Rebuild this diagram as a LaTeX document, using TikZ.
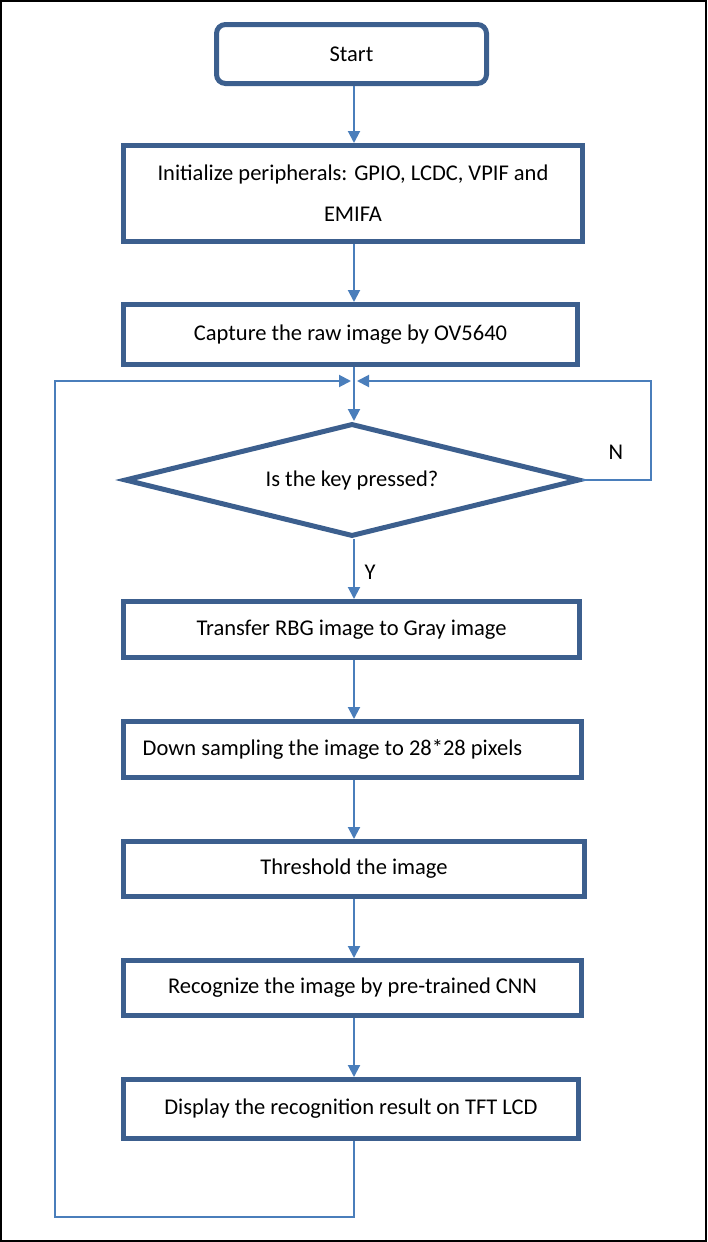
\documentclass[tikz,border=0pt]{standalone}
\usepackage{fontspec}
\setmainfont{Carlito}
\usetikzlibrary{arrows.meta,shapes.geometric}
\definecolor{boxblue}{HTML}{3C5F8E}
\definecolor{lineblue}{HTML}{4A7EBB}
\tikzset{
  stepbox/.style={draw=boxblue, line width=5pt, rectangle, inner sep=0pt,
    font=\fontsize{22.5}{41}\selectfont, align=center},
  startbox/.style={stepbox, rounded corners=9pt},
  decbox/.style={draw=boxblue, line width=5pt, diamond, inner sep=0pt,
    minimum width=455pt, minimum height=113pt, aspect=4.03,
    font=\fontsize{22.5}{24}\selectfont},
  conn/.style={draw=lineblue, line width=2pt},
  arr/.style={conn, -{Triangle[length=12pt,width=12pt]}},
  lbl/.style={font=\fontsize{22.5}{24}\selectfont, inner sep=0pt}
}
\begin{document}
\begin{tikzpicture}[x=1pt,y=-1pt]
\useasboundingbox (0,0) rectangle (707,1242);
\draw[black,line width=2pt] (1,1) rectangle (706,1241);

\node[startbox, minimum width=270pt, minimum height=59pt] (start) at (351.5,54) {\raisebox{-3pt}{Start}};
\node[stepbox, minimum width=459pt, minimum height=96pt] (init) at (353,193.5)
  {Initialize peripherals: GPIO, LCDC, VPIF and\\EMIFA};
\node[stepbox, minimum width=454pt, minimum height=60pt] (capture) at (350.5,334.5)
  {Capture the raw image by OV5640};
\node[decbox] (dec) at (352,480) {Is the key pressed?};
\node[stepbox, minimum width=456pt, minimum height=56pt] (gray) at (351.5,629.5)
  {\raisebox{-2pt}{Transfer RBG image to Gray image}};
\node[stepbox, minimum width=458pt, minimum height=56pt] (down) at (352.5,749.5)
  {\hspace*{-40pt}Down sampling the image to 28*28 pixels};
\node[stepbox, minimum width=461pt, minimum height=55pt] (thr) at (354,869)
  {Threshold the image};
\node[stepbox, minimum width=458pt, minimum height=55pt] (cnn) at (352.5,988)
  {Recognize the image by pre-trained CNN};
\node[stepbox, minimum width=455pt, minimum height=59pt] (disp) at (351,1109)
  {Display the recognition result on TFT LCD};

\coordinate (axis) at (354,0);
\coordinate (merge) at (354,381);
\coordinate (bl) at (55,1217);
\coordinate (br) at (354,1217);
\coordinate (tl) at (55,381);
\coordinate (tr) at (651,381);
\coordinate (nr) at (651,480);

\draw[arr] (start.south -| axis) -- (init.north -| axis);
\draw[arr] (init.south -| axis) -- (capture.north -| axis);
\draw[arr] (capture.south -| axis) -- (dec.north -| axis);
\draw[arr] (dec.south -| axis) -- (gray.north -| axis);
\draw[arr] (gray.south -| axis) -- (down.north -| axis);
\draw[arr] (down.south -| axis) -- (thr.north -| axis);
\draw[arr] (thr.south -| axis) -- (cnn.north -| axis);
\draw[arr] (cnn.south -| axis) -- (disp.north -| axis);

\draw[arr] (disp.south -| axis) -- (br) -- (bl) -- (tl) -- ([xshift=-3pt]merge);
\draw[arr] (dec.east) -- (nr) -- (tr) -- ([xshift=3pt]merge);

\node[lbl] (nlab) at (616,452) {N};
\node[lbl] (ylab) at (370,572) {Y};
\end{tikzpicture}
\end{document}
